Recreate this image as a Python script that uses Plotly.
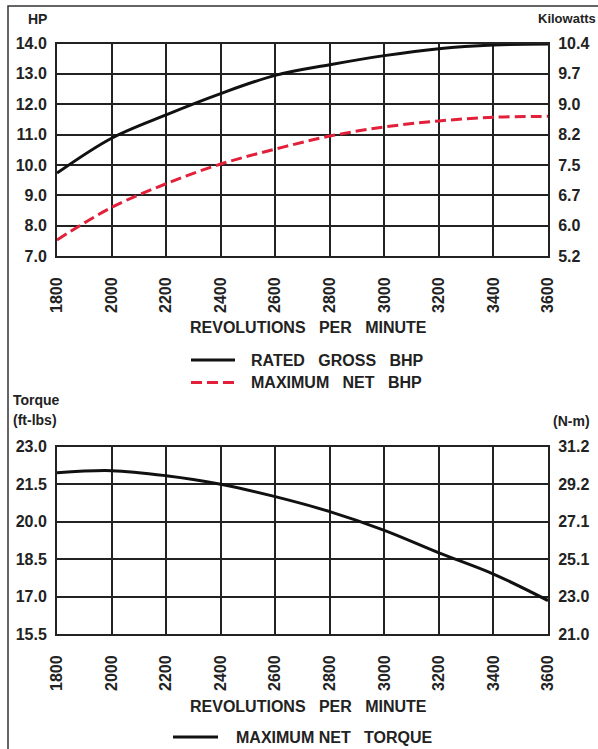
import plotly.graph_objects as go

W, H = 598, 749

rpm = [1800, 2000, 2200, 2400, 2600, 2800, 3000, 3200, 3400, 3600]
rated_gross_bhp = [9.73, 10.88, 11.65, 12.35, 12.95, 13.30, 13.60, 13.83, 13.95, 13.98]
max_net_bhp = [7.53, 8.60, 9.38, 10.03, 10.52, 10.95, 11.25, 11.45, 11.57, 11.60]
max_net_torque = [21.96, 22.04, 21.84, 21.50, 21.00, 20.40, 19.65, 18.75, 17.90, 16.84]

rpm_ticks = [1800, 2000, 2200, 2400, 2600, 2800, 3000, 3200, 3400, 3600]
hp_ticks = [7.0, 8.0, 9.0, 10.0, 11.0, 12.0, 13.0, 14.0]
hp_labels = ["7.0", "8.0", "9.0", "10.0", "11.0", "12.0", "13.0", "14.0"]
kw_labels = ["5.2", "6.0", "6.7", "7.5", "8.2", "9.0", "9.7", "10.4"]
torque_ticks = [15.5, 17.0, 18.5, 20.0, 21.5, 23.0]
torque_labels = ["15.5", "17.0", "18.5", "20.0", "21.5", "23.0"]
nm_labels = ["21.0", "23.0", "25.1", "27.1", "29.2", "31.2"]

FONT = "Liberation Sans, Arial, sans-serif"
INK = "#222222"
RED = "#e2203a"
SP = "\u00a0\u00a0\u00a0"


def px_x(p):
    return p / W


def px_y(p):
    return 1 - p / H


xdom = [px_x(57), px_x(548)]
top_dom = [px_y(256), px_y(43.5)]
bot_dom = [px_y(634), px_y(446.7)]

fig = go.Figure()

fig.add_trace(go.Scatter(x=rpm, y=rated_gross_bhp, mode="lines", name="RATED GROSS BHP",
                         line=dict(color="#111111", width=3, shape="spline"),
                         xaxis="x", yaxis="y"))
fig.add_trace(go.Scatter(x=rpm, y=max_net_bhp, mode="lines", name="MAXIMUM NET BHP",
                         line=dict(color=RED, width=3, dash="11px,5px", shape="spline"),
                         xaxis="x", yaxis="y"))
# invisible carrier for right (kW) axis
fig.add_trace(go.Scatter(x=rpm, y=rated_gross_bhp, mode="lines", hoverinfo="skip",
                         line=dict(color="rgba(0,0,0,0)", width=0), xaxis="x", yaxis="y2"))
fig.add_trace(go.Scatter(x=rpm, y=max_net_torque, mode="lines", name="MAXIMUM NET TORQUE",
                         line=dict(color="#111111", width=3, shape="spline"),
                         xaxis="x2", yaxis="y3"))
fig.add_trace(go.Scatter(x=rpm, y=max_net_torque, mode="lines", hoverinfo="skip",
                         line=dict(color="rgba(0,0,0,0)", width=0), xaxis="x2", yaxis="y4"))

tickfont = dict(family=FONT, size=16, color=INK, weight="bold")

common_x = dict(range=[1800, 3600], tickvals=rpm_ticks, ticktext=[str(v) for v in rpm_ticks],
                tickangle=-90, tickfont=tickfont, showgrid=True, gridcolor=INK, gridwidth=2,
                showline=True, linecolor=INK, linewidth=2, mirror=True, zeroline=False,
                ticks="", ticklabelstandoff=13, automargin=False, domain=xdom, fixedrange=True)
common_y = dict(tickfont=tickfont, gridcolor=INK, gridwidth=2,
                showline=True, linecolor=INK, linewidth=2, mirror=True, zeroline=False,
                ticks="", ticklabelstandoff=5, automargin=False, fixedrange=True)

fig.update_layout(
    width=W, height=H, margin=dict(l=0, r=0, t=0, b=0),
    template="none", paper_bgcolor="white", plot_bgcolor="white", showlegend=False,
    xaxis=dict(anchor="y", **common_x),
    xaxis2=dict(anchor="y3", **common_x),
    yaxis=dict(domain=top_dom, range=[7, 14], tickvals=hp_ticks, ticktext=hp_labels, anchor="x",
               showgrid=True, **common_y),
    yaxis2=dict(domain=top_dom, range=[7, 14], tickvals=hp_ticks, ticktext=kw_labels,
                overlaying="y", side="right", anchor="x", showgrid=False, **common_y),
    yaxis3=dict(domain=bot_dom, range=[15.5, 23], tickvals=torque_ticks, ticktext=torque_labels, anchor="x2",
                showgrid=True, **common_y),
    yaxis4=dict(domain=bot_dom, range=[15.5, 23], tickvals=torque_ticks, ticktext=nm_labels,
                overlaying="y3", side="right", anchor="x2", showgrid=False, **common_y),
)

lab = dict(family=FONT, size=14, color=INK, weight="bold")
big = dict(family=FONT, size=16, color=INK, weight="bold")
ann = [
    dict(text="HP", x=px_x(26), y=px_y(19), xanchor="left", yanchor="middle", font=lab),
    dict(text="Kilowatts", x=px_x(536), y=px_y(19), xanchor="left", yanchor="middle",
         font=dict(family=FONT, size=13, color=INK, weight="bold")),
    dict(text="REVOLUTIONS" + SP + "PER" + SP + "MINUTE", x=px_x(308), y=px_y(327), xanchor="center",
         yanchor="middle", font=big),
    dict(text="Torque", x=px_x(11), y=px_y(400), xanchor="left", yanchor="middle", font=lab),
    dict(text="(ft-lbs)", x=px_x(11), y=px_y(420), xanchor="left", yanchor="middle", font=lab),
    dict(text="(N-m)", x=px_x(551), y=px_y(421), xanchor="left", yanchor="middle", font=lab),
    dict(text="REVOLUTIONS" + SP + "PER" + SP + "MINUTE", x=px_x(308), y=px_y(706), xanchor="center",
         yanchor="middle", font=big),
    # legend texts
    dict(text="RATED" + SP + "GROSS" + SP + "BHP", x=px_x(249), y=px_y(360), xanchor="left",
         yanchor="middle", font=big),
    dict(text="MAXIMUM" + SP + "NET" + SP + "BHP", x=px_x(249), y=px_y(382.5), xanchor="left",
         yanchor="middle", font=big),
    dict(text="MAXIMUM NET" + SP + "TORQUE", x=px_x(234), y=px_y(737), xanchor="left",
         yanchor="middle", font=big),
]
for a in ann:
    a.update(xref="paper", yref="paper", showarrow=False)
fig.update_layout(annotations=ann)

# legend keys
fig.add_shape(type="line", xref="paper", yref="paper", x0=px_x(191), x1=px_x(235), y0=px_y(360), y1=px_y(360),
              line=dict(color="#111111", width=3))
fig.add_shape(type="line", xref="paper", yref="paper", x0=px_x(191), x1=px_x(235), y0=px_y(382.5), y1=px_y(382.5),
              line=dict(color=RED, width=3, dash="11px,5px"))
fig.add_shape(type="line", xref="paper", yref="paper", x0=px_x(173), x1=px_x(218), y0=px_y(737), y1=px_y(737),
              line=dict(color="#111111", width=3))

# outer frame
fig.add_shape(type="rect", xref="paper", yref="paper", x0=px_x(8), y0=px_y(6), x1=px_x(620), y1=px_y(770),
              line=dict(color="#333333", width=1.5), fillcolor="rgba(0,0,0,0)", layer="below")

fig.write_html("out.html", config={"displayModeBar": False},
               post_script="document.body.style.margin='0px';")
